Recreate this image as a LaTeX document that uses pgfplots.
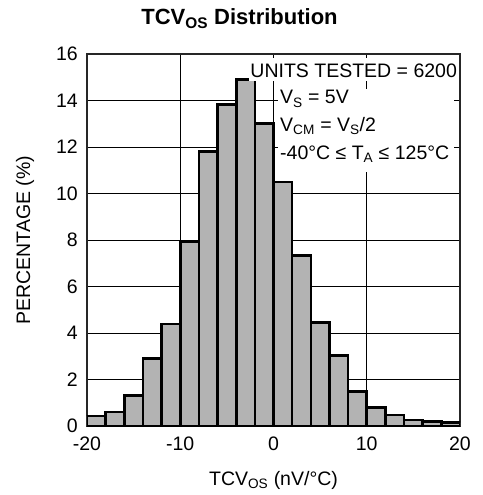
\documentclass[border=0pt]{standalone}
\usepackage{fontspec}
\setmainfont{Liberation Sans}
\usepackage{pgfplots}
\pgfplotsset{compat=1.18}

\definecolor{barfill}{HTML}{B3B3B3}

\begin{document}
\begin{tikzpicture}
\begin{axis}[
	scale only axis,
	width=373pt, height=372pt,
	xmin=-20, xmax=20,
	ymin=0, ymax=16,
	xtick={-20,-10,...,20},
	ytick={0,2,...,16},
	grid=major,
	major grid style={black, line width=0.9pt},
	major tick length=0pt,
	axis line style={black!85, line width=1.2pt},
	font=\fontsize{19.5}{23}\selectfont,
	/pgf/number format/assume math mode=true,
	xticklabel style={anchor=base, yshift=-24pt, inner sep=0pt},
	yticklabel style={anchor=east, xshift=-9pt, inner sep=0pt},
	xlabel={TCV\textsubscript{OS} (nV/°C)},
	xlabel style={at={(rel axis cs:0.5,0)}, anchor=base, yshift=-59pt, inner sep=0pt},
	ylabel={PERCENTAGE (\%)},
	ylabel style={at={(rel axis cs:0,0.5)}, anchor=center, yshift=62pt, inner sep=0pt},
]
% histogram, bin width 2, left edges
\addplot[ybar interval, fill=barfill, draw=black, line width=2.6pt] coordinates {
(-20,0.43) (-18,0.60) (-16,1.32) (-14,2.90) (-12,4.38)
(-10,7.92) (-8,11.80) (-6,13.82) (-4,14.91) (-2,13.02)
(0,10.50) (2,7.34) (4,4.45) (6,3.02) (8,1.48)
(10,0.80) (12,0.47) (14,0.26) (16,0.19) (18,0.14) (20,0.14)
};

\node[fill=white, anchor=base east, inner xsep=1.5pt, inner ysep=0pt,
      text height=19pt, text depth=4pt] at (axis cs:19.85,15.01) {UNITS TESTED = 6200};
\tikzset{cond/.style={fill=white, anchor=base west, inner xsep=2pt, inner ysep=0pt,
      text height=15pt, text depth=12.6pt}}
\node[cond] at (axis cs:0.48,13.85) {\makebox[172pt][l]{V\textsubscript{S} = 5V}};
\node[cond] at (axis cs:0.48,12.66) {\makebox[172pt][l]{V\textsubscript{CM} = V\textsubscript{S}/2}};
\node[cond] at (axis cs:0.48,11.48) {\makebox[172pt][l]{-40°C ≤ T\textsubscript{A} ≤ 125°C}};
\coordinate (sw) at (rel axis cs:0,0);
\end{axis}
\node[anchor=base, inner sep=0pt, font=\fontsize{22}{26}\selectfont\bfseries]
      at ([shift={(152.5pt,401pt)}]sw) {TCV\textsubscript{OS} Distribution};
\pgfresetboundingbox
\path[use as bounding box] ([shift={(-87pt,-69pt)}]sw) rectangle ++(482pt,495pt);
\end{tikzpicture}
\end{document}
